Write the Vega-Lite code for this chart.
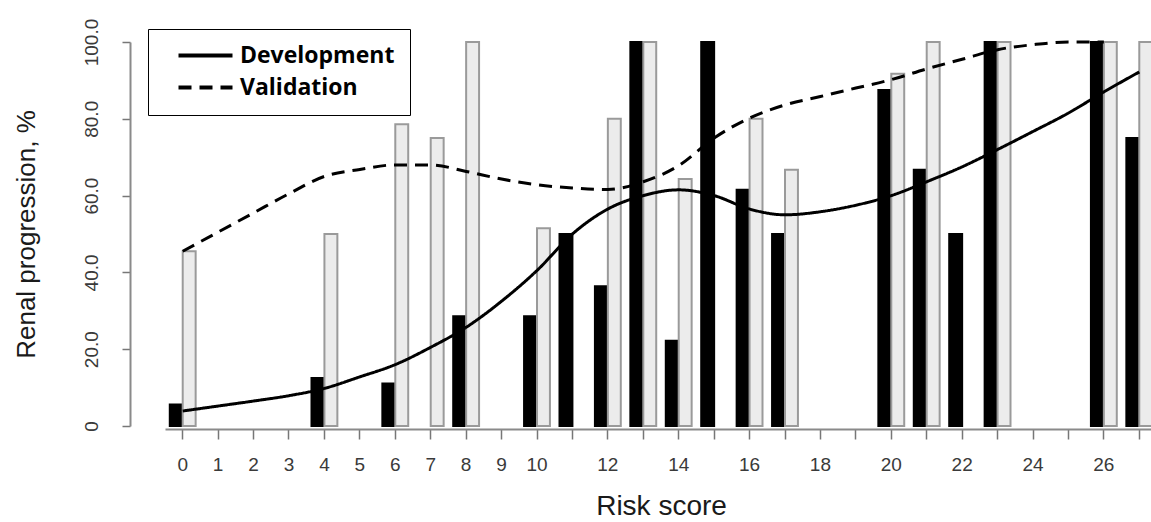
{
  "$schema": "https://vega.github.io/schema/vega-lite/v6.json",
  "width": 986,
  "height": 384,
  "autosize": "none",
  "padding": {"left": 165, "top": 42, "right": 0, "bottom": 96},
  "background": "white",
  "config": {
    "view": {"stroke": null},
    "font": "Liberation Sans"
  },
  "datasets": {
    "bars": [
      {"score": 0, "group": "Development", "value": 5.6},
      {"score": 4, "group": "Development", "value": 12.5},
      {"score": 6, "group": "Development", "value": 11.1},
      {"score": 8, "group": "Development", "value": 28.6},
      {"score": 10, "group": "Development", "value": 28.6},
      {"score": 11, "group": "Development", "value": 50},
      {"score": 12, "group": "Development", "value": 36.4},
      {"score": 13, "group": "Development", "value": 100},
      {"score": 14, "group": "Development", "value": 22.2},
      {"score": 15, "group": "Development", "value": 100},
      {"score": 16, "group": "Development", "value": 61.5},
      {"score": 17, "group": "Development", "value": 50},
      {"score": 20, "group": "Development", "value": 87.5},
      {"score": 21, "group": "Development", "value": 66.7},
      {"score": 22, "group": "Development", "value": 50},
      {"score": 23, "group": "Development", "value": 100},
      {"score": 26, "group": "Development", "value": 100},
      {"score": 27, "group": "Development", "value": 75},
      {"score": 0, "group": "Validation", "value": 45.5},
      {"score": 4, "group": "Validation", "value": 50},
      {"score": 6, "group": "Validation", "value": 78.6},
      {"score": 7, "group": "Validation", "value": 75},
      {"score": 8, "group": "Validation", "value": 100},
      {"score": 10, "group": "Validation", "value": 51.5},
      {"score": 12, "group": "Validation", "value": 80},
      {"score": 13, "group": "Validation", "value": 100},
      {"score": 14, "group": "Validation", "value": 64.3},
      {"score": 16, "group": "Validation", "value": 80},
      {"score": 17, "group": "Validation", "value": 66.7},
      {"score": 20, "group": "Validation", "value": 91.7},
      {"score": 21, "group": "Validation", "value": 100},
      {"score": 23, "group": "Validation", "value": 100},
      {"score": 26, "group": "Validation", "value": 100},
      {"score": 27, "group": "Validation", "value": 100}
    ],
    "lines": [
      {"score": 0, "series": "Development", "pct": 3.9},
      {"score": 1, "series": "Development", "pct": 5.2},
      {"score": 2, "series": "Development", "pct": 6.5},
      {"score": 3, "series": "Development", "pct": 7.9},
      {"score": 4, "series": "Development", "pct": 9.8},
      {"score": 5, "series": "Development", "pct": 12.8},
      {"score": 6, "series": "Development", "pct": 16},
      {"score": 7, "series": "Development", "pct": 20.5},
      {"score": 8, "series": "Development", "pct": 25.7},
      {"score": 9, "series": "Development", "pct": 32.5},
      {"score": 10, "series": "Development", "pct": 40.5},
      {"score": 11, "series": "Development", "pct": 50},
      {"score": 12, "series": "Development", "pct": 56.5},
      {"score": 13, "series": "Development", "pct": 60},
      {"score": 14, "series": "Development", "pct": 61.5},
      {"score": 15, "series": "Development", "pct": 60},
      {"score": 16, "series": "Development", "pct": 56.5},
      {"score": 17, "series": "Development", "pct": 55},
      {"score": 18, "series": "Development", "pct": 55.8},
      {"score": 19, "series": "Development", "pct": 57.5},
      {"score": 20, "series": "Development", "pct": 60},
      {"score": 21, "series": "Development", "pct": 63.6},
      {"score": 22, "series": "Development", "pct": 67.5},
      {"score": 23, "series": "Development", "pct": 72},
      {"score": 24, "series": "Development", "pct": 76.7},
      {"score": 25, "series": "Development", "pct": 81.5},
      {"score": 26, "series": "Development", "pct": 87},
      {"score": 27, "series": "Development", "pct": 92.2},
      {"score": 0, "series": "Validation", "pct": 45.5},
      {"score": 1, "series": "Validation", "pct": 50.5},
      {"score": 2, "series": "Validation", "pct": 55.5},
      {"score": 3, "series": "Validation", "pct": 60.5},
      {"score": 4, "series": "Validation", "pct": 65},
      {"score": 5, "series": "Validation", "pct": 66.8},
      {"score": 6, "series": "Validation", "pct": 68},
      {"score": 7, "series": "Validation", "pct": 68},
      {"score": 8, "series": "Validation", "pct": 66.3},
      {"score": 9, "series": "Validation", "pct": 64.3},
      {"score": 10, "series": "Validation", "pct": 62.8},
      {"score": 11, "series": "Validation", "pct": 62},
      {"score": 12, "series": "Validation", "pct": 61.6},
      {"score": 13, "series": "Validation", "pct": 63.6},
      {"score": 14, "series": "Validation", "pct": 67.8},
      {"score": 15, "series": "Validation", "pct": 75},
      {"score": 16, "series": "Validation", "pct": 80.2},
      {"score": 17, "series": "Validation", "pct": 83.6},
      {"score": 18, "series": "Validation", "pct": 85.8},
      {"score": 19, "series": "Validation", "pct": 88},
      {"score": 20, "series": "Validation", "pct": 90.2},
      {"score": 21, "series": "Validation", "pct": 93},
      {"score": 22, "series": "Validation", "pct": 95.5},
      {"score": 23, "series": "Validation", "pct": 98},
      {"score": 24, "series": "Validation", "pct": 99.3},
      {"score": 25, "series": "Validation", "pct": 100},
      {"score": 26, "series": "Validation", "pct": 100}
    ]
  },
  "layer": [
    {
      "data": {"name": "bars"},
      "mark": {"type": "bar", "strokeWidth": 2},
      "encoding": {
        "x": {
          "field": "score",
          "type": "ordinal",
          "scale": {
            "domain": [0,1,2,3,4,5,6,7,8,9,10,11,12,13,14,15,16,17,18,19,20,21,22,23,24,25,26,27],
            "range": [0, 992],
            "paddingInner": 0.27,
            "paddingOuter": 0.135
          },
          "axis": {
            "title": "Risk score",
            "titleFont": "Liberation Sans",
            "titleFontSize": 28,
            "titleFontWeight": "normal",
            "titleColor": "#1a1a1a",
            "titlePadding": 18,
            "labelAngle": 0,
            "labelExpr": "(datum.value <= 10 || datum.value % 2 == 0) ? datum.label : ''",
            "labelFontSize": 19,
            "labelColor": "#3a3a3a",
            "labelPadding": 16,
            "domainColor": "#8a8a8a",
            "domainWidth": 2,
            "tickColor": "#777",
            "tickWidth": 1.5,
            "tickSize": 10,
            "offset": 3,
            "grid": false
          }
        },
        "xOffset": {
          "field": "group",
          "type": "nominal",
          "scale": {"domain": ["Development", "Validation"], "paddingInner": 0, "paddingOuter": 0}
        },
        "y": {
          "field": "value",
          "type": "quantitative",
          "scale": {"domain": [0, 100]},
          "axis": {
            "title": "Renal progression, %",
            "titleFont": "Liberation Sans",
            "titleFontSize": 26,
            "titleFontWeight": "normal",
            "titleColor": "#1a1a1a",
            "titlePadding": 43,
            "values": [0, 20, 40, 60, 80, 100],
            "labelExpr": "datum.value == 0 ? '0' : format(datum.value, '.1f')",
            "labelAngle": -90,
            "labelFontSize": 19,
            "labelColor": "#3a3a3a",
            "labelPadding": 21,
            "domainColor": "#8a8a8a",
            "domainWidth": 2,
            "tickColor": "#777",
            "tickWidth": 1.5,
            "tickSize": 8,
            "offset": 35,
            "grid": false
          }
        },
        "fill": {
          "field": "group",
          "type": "nominal",
          "scale": {"domain": ["Development", "Validation"], "range": ["#000000", "#ececec"]},
          "legend": null
        },
        "stroke": {
          "field": "group",
          "type": "nominal",
          "scale": {"domain": ["Development", "Validation"], "range": ["#000000", "#9a9a9a"]},
          "legend": null
        }
      }
    },
    {
      "data": {"name": "lines"},
      "mark": {"type": "line", "color": "black", "strokeWidth": 3, "interpolate": "monotone"},
      "encoding": {
        "x": {"field": "score", "type": "ordinal"},
        "y": {"field": "pct", "type": "quantitative"},
        "strokeDash": {
          "field": "series",
          "type": "nominal",
          "scale": {"domain": ["Development", "Validation"], "range": [[1, 0], [13, 8]]},
          "legend": {
            "orient": "none",
            "legendX": -17,
            "legendY": -13,
            "title": null,
            "symbolType": "M-3,0H3",
            "symbolSize": 324,
            "symbolStrokeWidth": 4,
            "symbolStrokeColor": "black",
            "symbolOffset": 31,
            "labelOffset": 23,
            "labelFont": "Open Sans",
            "labelFontWeight": "bold",
            "labelFontSize": 23,
            "labelColor": "black",
            "padding": 15,
            "rowPadding": 8,
            "strokeColor": "black"
          }
        }
      }
    }
  ],
  "resolve": {"legend": {"strokeDash": "independent"}}
}
